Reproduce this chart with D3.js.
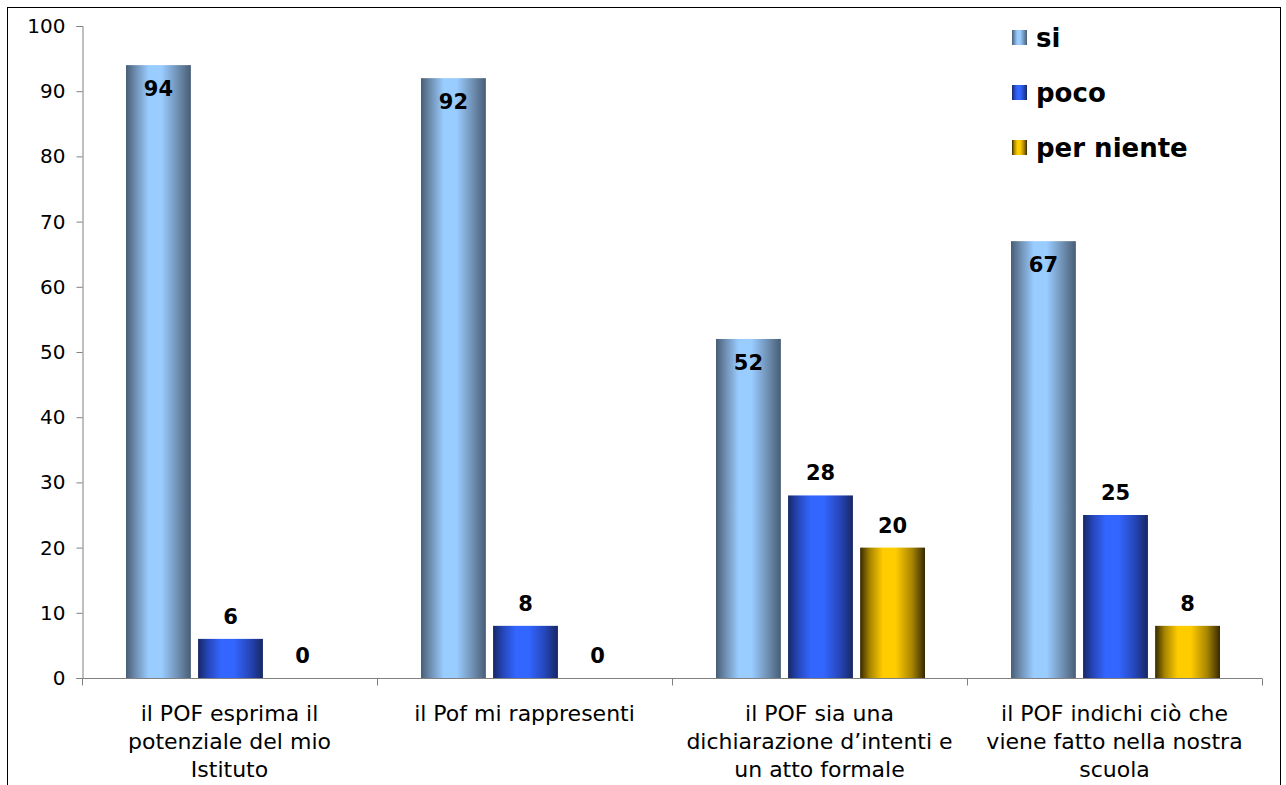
<!DOCTYPE html>
<html>
<head>
<meta charset="utf-8">
<script src="https://cdn.jsdelivr.net/npm/d3@7"></script>
<style>
    body { margin: 0; background: #fff; }
    svg { font-family: "DejaVu Sans", Verdana, sans-serif; }
</style>
</head>
<body>
<svg id="chart" width="1286" height="785"></svg>
<script>
// chart data
var categories = ['cat1', 'cat2', 'cat3', 'cat4'];
var categoryLabels = [
    ['il POF esprima il', 'potenziale del mio', 'Istituto'],
    ['il Pof mi rappresenti'],
    ['il POF sia una', 'dichiarazione d\u2019intenti e', 'un atto formale'],
    ['il POF indichi ci\u00f2 che', 'viene fatto nella nostra', 'scuola']
];
var seriesNames = ['si', 'poco', 'per niente'];
var siValues = [94, 92, 52, 67];
var pocoValues = [6, 8, 28, 25];
var perNienteValues = [0, 0, 20, 8];
var yTicks = [0, 10, 20, 30, 40, 50, 60, 70, 80, 90, 100];

var seriesValues = [siValues, pocoValues, perNienteValues];

// cylinder-like gradients: dark edges, light center
var gradients = [
    { id: 'g-si', edge: '#485d76', mid: '#6f8fb2', light: '#99ccff' },
    { id: 'g-poco', edge: '#172765', mid: '#2546b8', light: '#3366ff' },
    { id: 'g-per', edge: '#352900', mid: '#a88500', light: '#ffcc00' }
];

var svg = d3.select('#chart');

var defs = svg.append('defs');
gradients.forEach(function (g) {
    var lg = defs.append('linearGradient')
        .attr('id', g.id)
        .attr('x1', '0%').attr('x2', '100%')
        .attr('y1', '0%').attr('y2', '0%');
    [[0, g.edge], [0.15, g.mid], [0.35, g.light], [0.55, g.light], [0.8, g.mid], [1, g.edge]]
        .forEach(function (s) {
            lg.append('stop').attr('offset', s[0]).attr('stop-color', s[1]);
        });
});

// outer chart border
svg.append('rect')
    .attr('x', 7.5).attr('y', 7.5)
    .attr('width', 1273).attr('height', 800)
    .attr('fill', 'none')
    .attr('stroke', '#000')
    .attr('stroke-width', 1);

// scales
var x0 = d3.scaleBand().domain(categories).range([82, 1262]);
var x1 = d3.scaleBand().domain(seriesNames).range([44, 253]).paddingInner(0.1);
var y = d3.scaleLinear().domain([0, 100]).range([678, 26]);

// y axis
var yAxis = svg.append('g')
    .attr('transform', 'translate(82.5,0)')
    .call(d3.axisLeft(y).tickValues(yTicks).tickSize(6).tickPadding(11));
yAxis.select('.domain').attr('stroke', '#808080');
yAxis.selectAll('.tick line').attr('stroke', '#808080');
yAxis.selectAll('.tick text')
    .attr('font-size', 20)
    .attr('fill', '#000')
    .style('font-family', '"DejaVu Sans", Verdana, sans-serif');

// x axis
var xAxis = svg.append('g')
    .attr('transform', 'translate(0,678.5)');
xAxis.append('line')
    .attr('x1', 82).attr('x2', 1262)
    .attr('stroke', '#808080');
xAxis.selectAll('.xtick')
    .data(categories.concat(['end']))
    .enter().append('line')
    .attr('class', 'xtick')
    .attr('x1', (d, i) => { return i < categories.length ? x0(d) + 0.5 : 1262.5; })
    .attr('x2', (d, i) => { return i < categories.length ? x0(d) + 0.5 : 1262.5; })
    .attr('y1', 0).attr('y2', 7)
    .attr('stroke', '#808080');

// category labels
var catLabels = svg.append('g').selectAll('text')
    .data(categories)
    .enter().append('text')
    .attr('x', (d) => { return x0(d) + x0.bandwidth() / 2; })
    .attr('y', 721)
    .attr('text-anchor', 'middle')
    .attr('font-size', 22)
    .attr('fill', '#000');
catLabels.each(function (d, i) {
    var t = d3.select(this);
    categoryLabels[i].forEach(function (line, j) {
        t.append('tspan')
            .attr('x', x0(d) + x0.bandwidth() / 2)
            .attr('dy', j === 0 ? 0 : 28)
            .text(line);
    });
});

// bars and value labels
seriesNames.forEach(function (s, si) {
    var g = svg.append('g');
    var data = categories.map(function (c, i) { return { cat: c, value: seriesValues[si][i] }; });

    g.selectAll('rect')
        .data(data)
        .enter().append('rect')
        .attr('x', (d) => { return x0(d.cat) + x1(s); })
        .attr('y', (d) => { return y(d.value); })
        .attr('width', x1.bandwidth())
        .attr('height', (d) => { return y(0) - y(d.value); })
        .attr('fill', 'url(#' + gradients[si].id + ')');

    g.selectAll('text')
        .data(data)
        .enter().append('text')
        .attr('x', (d) => { return x0(d.cat) + x1(s) + x1.bandwidth() / 2; })
        // first series labels sit inside the bar top, others above it
        .attr('y', (d) => { return si === 0 ? y(d.value) + 31 : y(d.value) - 15; })
        .attr('text-anchor', 'middle')
        .attr('font-size', 21)
        .attr('font-weight', 'bold')
        .attr('fill', '#000')
        .text((d) => { return d.value; });
});

// legend
var legend = svg.append('g').selectAll('g')
    .data(seriesNames)
    .enter().append('g')
    .attr('transform', (d, i) => { return 'translate(1012,' + (30 + i * 55) + ')'; });
legend.append('rect')
    .attr('width', 15).attr('height', 15)
    .attr('fill', (d, i) => { return 'url(#' + gradients[i].id + ')'; });
legend.append('text')
    .attr('x', 24).attr('y', 17)
    .attr('font-size', 26)
    .attr('font-weight', 'bold')
    .attr('fill', '#000')
    .text((d) => { return d; });
</script>
</body>
</html>
